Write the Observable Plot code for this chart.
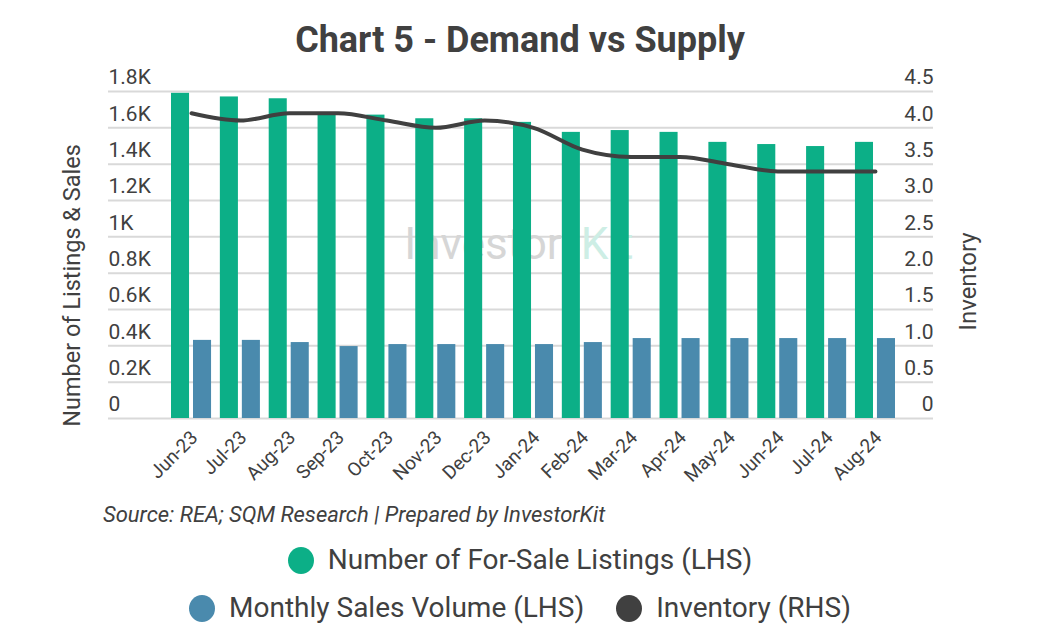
<!DOCTYPE html>
<html>
<head>
<meta charset="utf-8">
<script src="https://cdn.jsdelivr.net/npm/d3@7"></script>
<script src="https://cdn.jsdelivr.net/npm/@observablehq/plot@0.6"></script>
<style>
  html, body { margin: 0; padding: 0; background: #fff; }
  #wrap { position: relative; width: 1040px; height: 640px; overflow: hidden; font-family: Roboto, "Noto Sans", sans-serif; color: #404040; }
  #title { position: absolute; left: 0; top: 18px; width: 1040px; text-align: center; font-size: 36px; font-weight: 700; line-height: 44px; color: #404040; }
  #chart { position: absolute; left: 0; top: 55px; }
  #caption { position: absolute; left: 103px; top: 501px; font-size: 22px; font-style: italic; line-height: 28px; color: #404040; }
  .lrow { position: absolute; left: 0; width: 1040px; display: flex; justify-content: center; align-items: center; font-size: 28px; line-height: 34px; color: #404040; }
  .item { display: flex; align-items: center; margin: 0 16px; }
  .sw { width: 26px; height: 27px; border-radius: 50%; margin-right: 14px; }
</style>
</head>
<body>
<div id="wrap">
  <div id="title">Chart 5 - Demand vs Supply</div>
  <div id="chart"></div>
  <div id="caption">Source: REA; SQM Research | Prepared by InvestorKit</div>
  <div class="lrow" style="top:543px" id="leg1"></div>
  <div class="lrow" style="top:591px" id="leg2"></div>
</div>
<script>
const months = ["Jun-23","Jul-23","Aug-23","Sep-23","Oct-23","Nov-23","Dec-23","Jan-24","Feb-24","Mar-24","Apr-24","May-24","Jun-24","Jul-24","Aug-24"];
const listings = [1790, 1770, 1760, 1680, 1670, 1650, 1650, 1630, 1575, 1585, 1575, 1520, 1508, 1497, 1520];
const sales = [430, 430, 418, 396, 407, 407, 407, 407, 418, 440, 440, 440, 440, 440, 440];
const inventory = [4.2, 4.1, 4.2, 4.2, 4.1, 4.0, 4.1, 4.0, 3.7, 3.6, 3.6, 3.5, 3.4, 3.4, 3.4];
const leftTicks = [0, 200, 400, 600, 800, 1000, 1200, 1400, 1600, 1800];
const rightTickLabels = ["0", "0.5", "1.0", "1.5", "2.0", "2.5", "3.0", "3.5", "4.0", "4.5"];
const seriesNames = ["Number of For-Sale Listings (LHS)", "Monthly Sales Volume (LHS)", "Inventory (RHS)"];
const colors = ["#0caf87", "#4a8aad", "#404040"];

const rightMax = 4.5, leftMax = 1800, ratio = leftMax / rightMax;
const data = months.map((m, i) => ({month: m, listings: listings[i], sales: sales[i], inventory: inventory[i]}));

const fmtLeft = d => d === 0 ? "0" : (d / 1000) + "K";
const fmtRight = d => rightTickLabels[leftTicks.indexOf(d)];

const plot = Plot.plot({
  width: 1040,
  height: 450,
  marginLeft: 108,
  marginRight: 107,
  marginTop: 36,
  marginBottom: 87,
  style: {fontFamily: "Roboto, sans-serif", fontSize: "21px", color: "#404040", background: "transparent", overflow: "visible"},
  x: {domain: months, range: [166.6, 899.4], paddingInner: 0.18, paddingOuter: 0.09, round: false},
  y: {domain: [0, leftMax]},
  marks: [
    Plot.gridY(leftTicks, {stroke: "#d9d9d9", strokeOpacity: 1, strokeWidth: 2}),
    Plot.text(["Investor"], {frameAnchor: "middle", dx: -38, dy: -10, fill: "#d6d6d6", fontSize: 44, fontWeight: 400}),
    Plot.text(["Kit"], {frameAnchor: "middle", dx: 86, dy: -10, fill: "#cdeee5", fontSize: 44, fontWeight: 400}),
    Plot.barY(data, {x: "month", y: "listings", fill: colors[0], insetRight: 22}),
    Plot.barY(data, {x: "month", y: "sales", fill: colors[1], insetLeft: 22}),
    Plot.line(data, {x: "month", y: d => d.inventory * ratio, stroke: colors[2], strokeWidth: 4, curve: "monotone-x"}),
    Plot.axisY({anchor: "left", ticks: leftTicks, tickFormat: fmtLeft, tickSize: 0, tickPadding: 0, textAnchor: "start", dy: -14, label: null, fontSize: 21}),
    Plot.axisY({anchor: "right", ticks: leftTicks, tickFormat: fmtRight, tickSize: 0, tickPadding: 0, textAnchor: "end", dy: -14, label: null, fontSize: 21}),
    Plot.axisX({anchor: "bottom", tickRotate: -45, tickSize: 0, tickPadding: 16, dx: 3, label: null, fontSize: 19}),
    Plot.text(["Number of Listings & Sales"], {frameAnchor: "left", textAnchor: "middle", dx: -36, dy: 30.5, rotate: -90, fontSize: 23.5, fill: "#404040"}),
    Plot.text(["Inventory"], {frameAnchor: "right", textAnchor: "middle", dx: 35, dy: 26.5, rotate: -90, fontSize: 24, fill: "#404040"})
  ]
});
document.getElementById("chart").appendChild(plot);

function item(name, color) {
  const it = document.createElement("div");
  it.className = "item";
  const sw = document.createElement("div");
  sw.className = "sw";
  sw.style.background = color;
  const tx = document.createElement("span");
  tx.textContent = name;
  it.appendChild(sw); it.appendChild(tx);
  return it;
}
document.getElementById("leg1").appendChild(item(seriesNames[0], colors[0]));
document.getElementById("leg2").appendChild(item(seriesNames[1], colors[1]));
document.getElementById("leg2").appendChild(item(seriesNames[2], colors[2]));
</script>
</body>
</html>
